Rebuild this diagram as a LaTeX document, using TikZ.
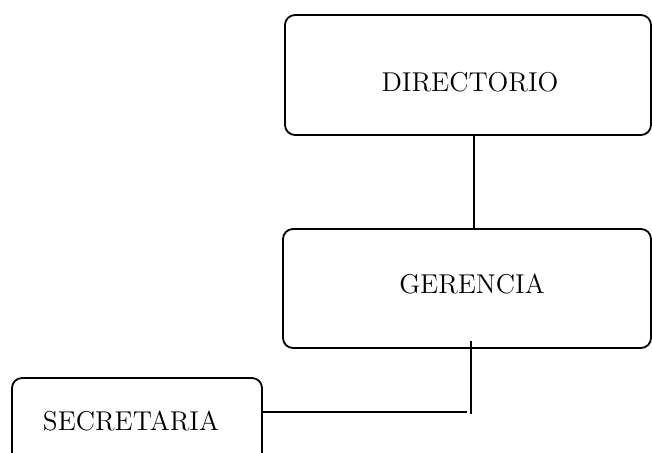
\documentclass[tikz,border=0pt]{standalone}
\begin{document}
\begin{tikzpicture}[x=0.5pt,y=-0.5pt,
  unit/.style={draw=black,line width=0.9pt,rounded corners=5pt,rectangle,inner sep=0pt},
  lbl/.style={font=\fontsize{13.6}{16}\selectfont,inner sep=0pt},
  link/.style={draw=black,line width=0.9pt}]
  \useasboundingbox (0,0) rectangle (652,452);
  \clip (0,0) rectangle (652,452);
  % boxes
  \node[unit,minimum width=183pt,minimum height=60pt] (dir) at (468,75) {};
  \node[unit,minimum width=184pt,minimum height=59.5pt] (ger) at (467,288.5) {};
  \node[unit,minimum width=125pt,minimum height=61pt] (sec) at (137,439) {};
  % labels
  \node[lbl] (dirt) at (470,82) {DIRECTORIO};
  \node[lbl] (gert) at (472,284) {GERENCIA};
  \node[lbl] (sect) at (131,421) {SECRETARIA};
  % connectors
  \coordinate (k1) at (474,0);
  \coordinate (k2) at (470.7,341);
  \coordinate (k3) at (470.7,414);
  \coordinate (k4) at (467,412);
  \draw[link] (dir.south -| k1) -- (ger.north -| k1);
  \draw[link] (k2) -- (k3);
  \draw[link] (sec.east |- k4) -- (k4);
\end{tikzpicture}
\end{document}
